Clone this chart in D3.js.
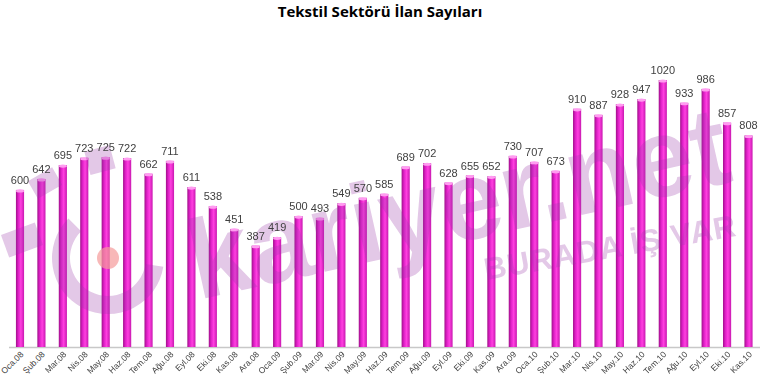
<!DOCTYPE html>
<html><head><meta charset="utf-8">
<script src="https://cdn.jsdelivr.net/npm/d3@7/dist/d3.min.js"></script>
<style>body{margin:0;background:#fff}svg{display:block}</style>
</head><body>
<svg id="c" width="760" height="385"></svg>
<script>
const months = ["Oca.08","Şub.08","Mar.08","Nis.08","May.08","Haz.08","Tem.08","Ağu.08","Eyl.08","Eki.08","Kas.08","Ara.08",
"Oca.09","Şub.09","Mar.09","Nis.09","May.09","Haz.09","Tem.09","Ağu.09","Eyl.09","Eki.09","Kas.09","Ara.09",
"Oca.10","Şub.10","Mar.10","Nis.10","May.10","Haz.10","Tem.10","Ağu.10","Eyl.10","Eki.10","Kas.10"];
const values = [600,642,695,723,725,722,662,711,611,538,451,387,419,500,493,549,570,585,689,702,628,655,652,730,707,673,910,887,928,947,1020,933,986,857,808];
const title = "Tekstil Sektörü İlan Sayıları";

const svg = d3.select("#c");
const defs = svg.append("defs");
const g1 = defs.append("linearGradient").attr("id","bar").attr("x1","0").attr("x2","1").attr("y1","0").attr("y2","0");
g1.append("stop").attr("offset","0").attr("stop-color","#a0108a");
g1.append("stop").attr("offset","0.3").attr("stop-color","#e020c8");
g1.append("stop").attr("offset","0.6").attr("stop-color","#ff40e0");
g1.append("stop").attr("offset","1").attr("stop-color","#c818b0");

const x = d3.scaleBand().domain(months).range([9.5, 759]).paddingInner(0.62).paddingOuter(0.3);
const y = d3.scaleLinear().domain([0,1020]).range([347,80]);

// baseline
svg.append("line").attr("x1",9).attr("x2",760).attr("y1",347.5).attr("y2",347.5).attr("stroke","#c8c8c8").attr("stroke-width",1.5);

// bars
const bw = x.bandwidth();
const bars = svg.append("g").selectAll("g").data(values).join("g");
bars.append("rect").attr("x",(d,i)=>x(months[i])).attr("y",d=>y(d)).attr("width",bw).attr("height",d=>y(0)-y(d))
  .attr("fill","url(#bar)");
bars.append("ellipse").attr("cx",(d,i)=>x(months[i])+bw/2).attr("cy",d=>y(d)+1).attr("rx",bw/2).attr("ry",1.6)
  .attr("fill","#ff9cf0");

// watermark (on top, translucent)
const wc = "#9a3aa8";
const wm = svg.append("g").attr("opacity",0.28).attr("fill",wc);
wm.append("text").attr("x",198).attr("y",300).attr("transform","rotate(-12.5,198,300)")
  .attr("font-family","Liberation Sans, Arial, sans-serif").attr("font-weight","bold").attr("font-size",112)
  .attr("textLength",550).attr("lengthAdjust","spacingAndGlyphs").text("kariyer.net");
wm.append("text").attr("x",486).attr("y",280).attr("transform","rotate(-10,486,280)")
  .attr("font-family","Liberation Sans, Arial, sans-serif").attr("font-weight","bold").attr("font-size",31)
  .attr("letter-spacing",1).text("BURADA İŞ VAR");
wm.append("path").attr("d", d3.arc()({innerRadius:38,outerRadius:56,startAngle:Math.PI*0.55,endAngle:Math.PI*1.75}))
  .attr("transform","translate(108,258)");
wm.append("rect").attr("x",-18).attr("y",-12).attr("width",36).attr("height",24).attr("transform","translate(22,240) rotate(-20)");
wm.append("rect").attr("x",-14).attr("y",-10).attr("width",28).attr("height",20).attr("transform","translate(45,183) rotate(-30)");
wm.append("rect").attr("x",-13).attr("y",-12).attr("width",26).attr("height",24).attr("transform","translate(100,160) rotate(-15)");
svg.append("circle").attr("cx",108).attr("cy",258).attr("r",11).attr("fill","#f59a9a").attr("opacity",0.7);

// value labels
svg.append("g").selectAll("text").data(values).join("text")
  .attr("x",(d,i)=>x(months[i])+bw/2).attr("y",d=>y(d)-6)
  .attr("text-anchor","middle").attr("font-family","Liberation Sans, Arial, sans-serif").attr("font-size",11)
  .attr("fill","#404040").text(d=>d);

// x labels
svg.append("g").selectAll("text").data(months).join("text")
  .attr("transform",d=>`translate(${x(d)+bw/2+4},355) rotate(-45)`)
  .attr("text-anchor","end").attr("font-family","Liberation Sans, Arial, sans-serif").attr("font-size",8.5)
  .attr("fill","#404040").text(d=>d);

// title
svg.append("text").attr("x",380).attr("y",17).attr("text-anchor","middle")
  .attr("font-family","Open Sans, Liberation Sans, sans-serif").attr("font-weight","bold").attr("font-size",15)
  .attr("fill","#000").text(title);
</script>
</body></html>
